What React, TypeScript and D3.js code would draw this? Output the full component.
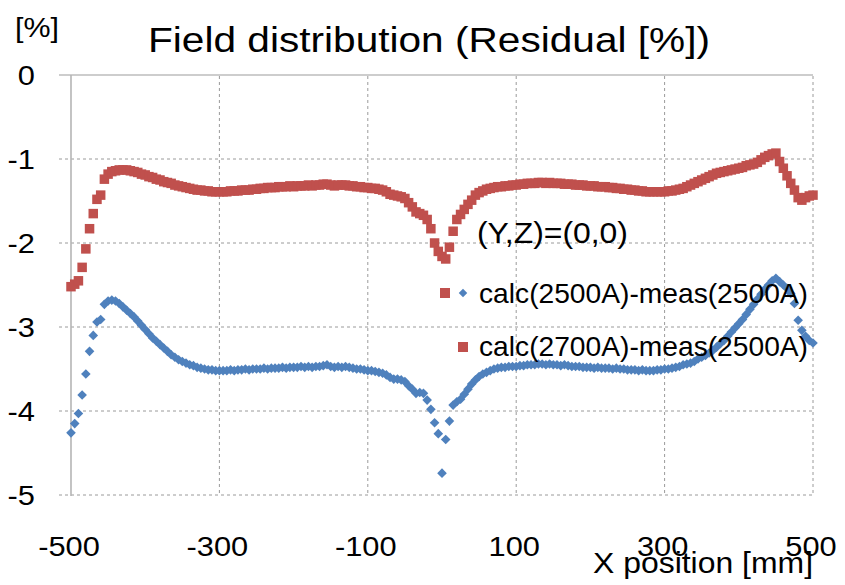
import React from 'react';
import * as d3 from 'd3';

// measurement positions along X [mm]
const xPositions = [
  -500, -495, -490, -485, -480, -475, -470, -465, -460, -455,
  -450, -445, -440, -435, -430, -425, -420, -415, -410, -405,
  -400, -395, -390, -385, -380, -375, -370, -365, -360, -355,
  -350, -345, -340, -335, -330, -325, -320, -315, -310, -305,
  -300, -295, -290, -285, -280, -275, -270, -265, -260, -255,
  -250, -245, -240, -235, -230, -225, -220, -215, -210, -205,
  -200, -195, -190, -185, -180, -175, -170, -165, -160, -155,
  -150, -145, -140, -135, -130, -125, -120, -115, -110, -105,
  -100, -95, -90, -85, -80, -75, -70, -65, -60, -55,
  -50, -45, -40, -35, -30, -25, -20, -15, -10, -5,
  0, 5, 10, 15, 20, 25, 30, 35, 40, 45,
  50, 55, 60, 65, 70, 75, 80, 85, 90, 95,
  100, 105, 110, 115, 120, 125, 130, 135, 140, 145,
  150, 155, 160, 165, 170, 175, 180, 185, 190, 195,
  200, 205, 210, 215, 220, 225, 230, 235, 240, 245,
  250, 255, 260, 265, 270, 275, 280, 285, 290, 295,
  300, 305, 310, 315, 320, 325, 330, 335, 340, 345,
  350, 355, 360, 365, 370, 375, 380, 385, 390, 395,
  400, 405, 410, 415, 420, 425, 430, 435, 440, 445,
  450, 455, 460, 465, 470, 475, 480, 485, 490, 495,
  500,
];

// calc(2500A)-meas(2500A) [%]
const residual2500 = [
  -4.26, -4.15, -4.03, -3.81, -3.56, -3.29, -3.10, -2.94, -2.91, -2.73,
  -2.69, -2.68, -2.69, -2.72, -2.76, -2.80, -2.84, -2.88, -2.93, -2.98,
  -3.03, -3.08, -3.13, -3.17, -3.21, -3.25, -3.29, -3.33, -3.36, -3.39,
  -3.41, -3.43, -3.45, -3.46, -3.48, -3.49, -3.50, -3.51, -3.51, -3.52,
  -3.52, -3.52, -3.52, -3.51, -3.52, -3.51, -3.51, -3.50, -3.51, -3.50,
  -3.50, -3.50, -3.49, -3.50, -3.49, -3.49, -3.49, -3.48, -3.49, -3.48,
  -3.48, -3.48, -3.47, -3.48, -3.47, -3.48, -3.47, -3.47, -3.46, -3.45,
  -3.47, -3.48, -3.47, -3.48, -3.47, -3.48, -3.49, -3.50, -3.50, -3.51,
  -3.52, -3.52, -3.53, -3.54, -3.55, -3.57, -3.60, -3.62, -3.62, -3.63,
  -3.65, -3.70, -3.74, -3.79, -3.78, -3.79, -3.87, -3.98, -4.14, -4.27,
  -4.74, -4.34, -4.12, -3.93, -3.89, -3.86, -3.80, -3.74, -3.68, -3.63,
  -3.59, -3.56, -3.54, -3.52, -3.50, -3.49, -3.48, -3.48, -3.47, -3.47,
  -3.47, -3.46, -3.46, -3.45, -3.45, -3.45, -3.44, -3.44, -3.45, -3.44,
  -3.45, -3.45, -3.46, -3.45, -3.46, -3.47, -3.47, -3.47, -3.48, -3.48,
  -3.48, -3.49, -3.48, -3.49, -3.49, -3.49, -3.50, -3.49, -3.50, -3.50,
  -3.51, -3.51, -3.51, -3.52, -3.51, -3.52, -3.52, -3.52, -3.51, -3.51,
  -3.50, -3.50, -3.49, -3.48, -3.47, -3.45, -3.44, -3.43, -3.41, -3.38,
  -3.36, -3.34, -3.31, -3.28, -3.24, -3.20, -3.16, -3.11, -3.06, -3.01,
  -2.96, -2.91, -2.85, -2.79, -2.73, -2.67, -2.61, -2.55, -2.50, -2.45,
  -2.42, -2.46, -2.50, -2.54, -2.60, -2.72, -2.92, -3.04, -3.11, -3.16,
  -3.19,
];

// calc(2700A)-meas(2500A) [%]
const residual2700 = [
  -2.52, -2.49, -2.45, -2.29, -2.07, -1.83, -1.65, -1.48, -1.43, -1.24,
  -1.18, -1.15, -1.14, -1.13, -1.13, -1.13, -1.14, -1.15, -1.16, -1.18,
  -1.19, -1.21, -1.22, -1.24, -1.25, -1.27, -1.28, -1.29, -1.31, -1.32,
  -1.33, -1.34, -1.35, -1.36, -1.37, -1.37, -1.38, -1.38, -1.39, -1.39,
  -1.39, -1.39, -1.39, -1.38, -1.38, -1.38, -1.37, -1.37, -1.37, -1.36,
  -1.36, -1.35, -1.35, -1.34, -1.34, -1.34, -1.33, -1.33, -1.33, -1.32,
  -1.33, -1.32, -1.32, -1.32, -1.31, -1.32, -1.31, -1.31, -1.30, -1.30,
  -1.31, -1.32, -1.31, -1.31, -1.31, -1.32, -1.32, -1.33, -1.33, -1.34,
  -1.34, -1.35, -1.35, -1.36, -1.37, -1.39, -1.42, -1.43, -1.44, -1.45,
  -1.47, -1.52, -1.57, -1.63, -1.65, -1.67, -1.72, -1.83, -2.00, -2.10,
  -2.16, -2.19, -2.05, -1.86, -1.72, -1.66, -1.60, -1.54, -1.49, -1.43,
  -1.40, -1.38, -1.36, -1.35, -1.34, -1.33, -1.33, -1.32, -1.32, -1.31,
  -1.31, -1.30, -1.30, -1.29, -1.29, -1.29, -1.28, -1.28, -1.29, -1.28,
  -1.29, -1.29, -1.29, -1.30, -1.30, -1.30, -1.31, -1.31, -1.31, -1.32,
  -1.32, -1.32, -1.33, -1.33, -1.33, -1.34, -1.34, -1.35, -1.35, -1.36,
  -1.36, -1.37, -1.37, -1.38, -1.38, -1.39, -1.39, -1.39, -1.39, -1.39,
  -1.39, -1.38, -1.38, -1.37, -1.36, -1.35, -1.33, -1.31, -1.29, -1.27,
  -1.25, -1.23, -1.21, -1.19, -1.17, -1.16, -1.15, -1.14, -1.13, -1.12,
  -1.11, -1.10, -1.08, -1.07, -1.06, -1.04, -1.01, -0.98, -0.96, -0.94,
  -0.93, -1.03, -1.11, -1.20, -1.29, -1.37, -1.46, -1.49, -1.46, -1.44,
  -1.43,
];

const xTicks = [-500, -300, -100, 100, 300, 500];
const yTicks = [0, -1, -2, -3, -4, -5];

const RED = '#C0504D';
const BLUE = '#4F81BD';
const FONT = '"Liberation Sans", Arial, sans-serif';

export default function App() {
  const width = 845;
  const height = 585;
  const left = 71, right = 813, top = 75, bottom = 495;

  const x = d3.scaleLinear().domain([-500, 500]).range([left, right]);
  const y = d3.scaleLinear().domain([-5, 0]).range([bottom, top]);

  const sq = 9.5;
  const dm = 6.8;

  return (
    <svg
      width={width}
      height={height}
      style={{ position: 'absolute', left: 0, top: 0, background: '#fff' }}
      fontFamily={FONT}
    >
      {/* horizontal grid */}
      {yTicks.map((t) => (
        <line
          key={'h' + t}
          x1={59}
          x2={right}
          y1={y(t)}
          y2={y(t)}
          stroke={t === 0 ? '#BDBDBD' : '#9A9A9A'}
          strokeWidth={t === 0 ? 1.6 : 1}
          strokeDasharray={t === 0 ? undefined : '3,3'}
        />
      ))}
      {/* vertical grid */}
      {xTicks.slice(1).map((t) => (
        <line
          key={'v' + t}
          x1={x(t)}
          x2={x(t)}
          y1={top + 1}
          y2={bottom}
          stroke="#9A9A9A"
          strokeWidth={1}
          strokeDasharray="3,3"
        />
      ))}
      {/* y axis */}
      <line x1={x(-500)} x2={x(-500)} y1={top} y2={bottom + 1} stroke="#B5B5B5" strokeWidth={1.6} />

      {/* calc(2700A) squares */}
      {xPositions.map((p, i) => (
        <rect
          key={'r' + i}
          x={x(p) - sq / 2}
          y={y(residual2700[i]) - sq / 2}
          width={sq}
          height={sq}
          fill={RED}
        />
      ))}
      {/* calc(2500A) diamonds */}
      {xPositions.map((p, i) => (
        <rect
          key={'b' + i}
          x={-dm / 2}
          y={-dm / 2}
          width={dm}
          height={dm}
          fill={BLUE}
          transform={`translate(${x(p)},${y(residual2500[i])}) rotate(45)`}
        />
      ))}

      {/* y tick labels */}
      {yTicks.map((t) => (
        <text
          key={'yl' + t}
          transform={`translate(35,${y(t) + 10}) scale(1.1,1)`}
          textAnchor="end"
          fontSize={28}
          fill="#000"
        >
          {t}
        </text>
      ))}
      {/* x tick labels */}
      {xTicks.map((t) => (
        <text
          key={'xl' + t}
          transform={`translate(${x(t) - 2},556) scale(1.1,1)`}
          textAnchor="middle"
          fontSize={28}
          fill="#000"
        >
          {t}
        </text>
      ))}

      <text x={15} y={37} fontSize={28} textLength={44} lengthAdjust="spacingAndGlyphs">[%]</text>
      <text x={148} y={52} fontSize={35} textLength={562} lengthAdjust="spacingAndGlyphs">
        Field distribution (Residual [%])
      </text>
      <text x={593} y={573} fontSize={30} textLength={220} lengthAdjust="spacingAndGlyphs">
        X position [mm]
      </text>
      <text x={477} y={243} fontSize={30} textLength={151} lengthAdjust="spacingAndGlyphs">
        (Y,Z)=(0,0)
      </text>

      {/* legend */}
      <rect x={445 - 5} y={293 - 5} width={10} height={10} fill={RED} />
      <rect
        x={-3}
        y={-3}
        width={6}
        height={6}
        fill={BLUE}
        transform="translate(463,293) rotate(45)"
      />
      <text x={479} y={303} fontSize={28} textLength={329} lengthAdjust="spacingAndGlyphs">
        calc(2500A)-meas(2500A)
      </text>
      <rect x={463 - 5} y={347 - 5} width={10} height={10} fill={RED} />
      <text x={479} y={356} fontSize={28} textLength={329} lengthAdjust="spacingAndGlyphs">
        calc(2700A)-meas(2500A)
      </text>
    </svg>
  );
}
